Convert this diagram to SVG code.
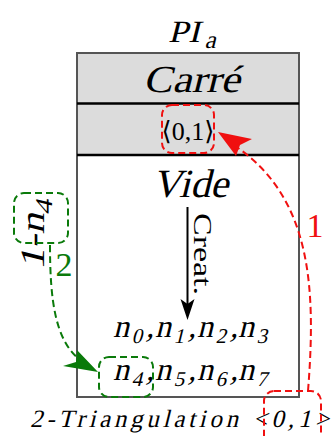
<svg xmlns="http://www.w3.org/2000/svg" width="335" height="436" viewBox="0 0 335 436">
<style>
text{font-family:"Liberation Serif",serif;fill:#000}
.br{font-family:"DejaVu Sans",sans-serif}
.rd{fill:none;stroke:#f01010;stroke-width:2;stroke-dasharray:7,4}
.gd{fill:none;stroke:#0a7a0a;stroke-width:2;stroke-dasharray:7,4}
</style>
<rect width="335" height="436" fill="#fff"/>
<g id="title" transform="translate(168,42) skewX(-14)">
<text x="0" y="0" font-size="31" textLength="32" lengthAdjust="spacingAndGlyphs">PI</text><text x="38" y="6" font-size="25">a</text>
</g>
<g id="box">
<rect x="77" y="53" width="222" height="102" fill="#dcdcdc"/>
<rect x="77" y="53" width="222" height="344" fill="none" stroke="#555" stroke-width="2"/>
<line x1="77" y1="103.5" x2="299" y2="103.5" stroke="#000" stroke-width="2.5"/>
<line x1="77" y1="155" x2="299" y2="155" stroke="#000" stroke-width="2.5"/>
</g>
<g id="carre" transform="translate(143,92) skewX(-14)"><text x="0" y="0" font-size="38" textLength="97" lengthAdjust="spacingAndGlyphs">Carré</text></g>
<g id="pair"><text x="188" y="140" font-size="26" text-anchor="middle"><tspan class="br">⟨</tspan>0,1<tspan class="br">⟩</tspan></text>
<rect class="rd" x="162" y="105" width="52" height="48" rx="10"/></g>
<g id="vide" transform="translate(152,197) skewX(-14)"><text x="0" y="0" font-size="40" textLength="76" lengthAdjust="spacingAndGlyphs">Vide</text></g>
<g id="creat">
<line x1="187.5" y1="207" x2="187.5" y2="305" stroke="#000" stroke-width="2"/>
<path d="M187.5 320 L180.5 299 L187.5 304 L194.5 299 Z" fill="#000"/>
<text font-size="25" transform="translate(194,213) rotate(90)" textLength="82" lengthAdjust="spacingAndGlyphs">Creat.</text>
</g>
<g id="row1" transform="translate(0,337) skewX(-14)"><text font-size="32" y="0"><tspan x="113">n</tspan><tspan x="133" y="6" font-size="21">0</tspan><tspan x="146" y="0">,</tspan><tspan x="155">n</tspan><tspan x="175" y="6" font-size="21">1</tspan><tspan x="188" y="0">,</tspan><tspan x="197">n</tspan><tspan x="217" y="6" font-size="21">2</tspan><tspan x="230" y="0">,</tspan><tspan x="238">n</tspan><tspan x="258" y="6" font-size="21">3</tspan></text></g>
<g id="row2"><g transform="translate(0,380) skewX(-14)"><text font-size="32" y="0"><tspan x="113">n</tspan><tspan x="133" y="6" font-size="21">4</tspan><tspan x="146" y="0">,</tspan><tspan x="155">n</tspan><tspan x="175" y="6" font-size="21">5</tspan><tspan x="188" y="0">,</tspan><tspan x="197">n</tspan><tspan x="217" y="6" font-size="21">6</tspan><tspan x="230" y="0">,</tspan><tspan x="238">n</tspan><tspan x="258" y="6" font-size="21">7</tspan></text></g>
<rect class="gd" x="99" y="357" width="54" height="40" rx="10"/></g>
<g id="bottom"><g transform="translate(30,427) skewX(-14)"><text x="0" y="0" font-size="25" textLength="208" lengthAdjust="spacing">2-Triangulation</text>
<text x="223" y="0" font-size="25" textLength="76" lengthAdjust="spacing">&lt;0,1&gt;</text></g>
<rect class="rd" x="264" y="391" width="57" height="60" rx="10"/></g>
<g id="label1"><g transform="translate(44,270) rotate(-90) skewX(-14)"><text x="0" y="0" font-size="34" textLength="72" lengthAdjust="spacingAndGlyphs">1-n<tspan dy="8" font-size="24">4</tspan></text></g>
<rect class="gd" x="14" y="193" width="54" height="50" rx="10"/></g>
<g id="connectors">
<path class="rd" d="M308 391 C316 290 312 200 238 148"/>
<path d="M218 132 L252 139 L240 145 L236 156 Z" fill="#f01010"/>
<text x="315" y="237" font-size="34" style="fill:#f01010" text-anchor="middle">1</text>
<path class="gd" d="M50 245 C50 300 55 340 80 360"/>
<path d="M98 372 L63 366 L76 362 L77 350 Z" fill="#0a7a0a"/>
<text x="64" y="276" font-size="34" style="fill:#0a7a0a" text-anchor="middle">2</text>
</g>
</svg>
